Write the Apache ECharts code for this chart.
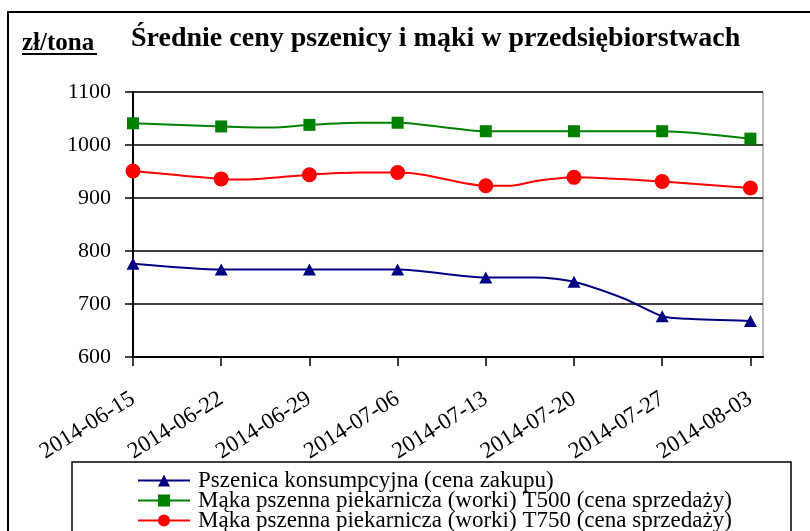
<!DOCTYPE html>
<html><head><meta charset="utf-8">
<script src="https://cdn.jsdelivr.net/npm/echarts@6/dist/echarts.min.js"></script>
<style>html,body{margin:0;padding:0;background:#fff}#c{width:810px;height:531px}</style>
</head><body><div id="c"></div>
<script>
const tickDates = ['2014-06-15','2014-06-22','2014-06-29','2014-07-06','2014-07-13','2014-07-20','2014-07-27','2014-08-03'];
const seriesNames = ['Pszenica konsumpcyjna (cena zakupu)','Mąka pszenna piekarnicza (worki) T500 (cena sprzedaży)','Mąka pszenna piekarnicza (worki) T750 (cena sprzedaży)'];
const wheatDates = ['2014-06-15','2014-06-22','2014-06-29','2014-07-06','2014-07-13','2014-07-17','2014-07-20','2014-07-24','2014-07-27','2014-07-29','2014-08-03'];
const wheatValues = [776, 765, 765, 765, 750, 750, 742, 710, 677, 672, 668];
const t500Dates = ['2014-06-15','2014-06-22','2014-06-26','2014-06-29','2014-07-03','2014-07-06','2014-07-13','2014-07-20','2014-07-27','2014-08-03'];
const t500Values = [1041, 1035, 1033, 1038, 1042, 1042, 1026, 1026, 1026, 1012];
const t750Dates = ['2014-06-15','2014-06-22','2014-06-24','2014-06-29','2014-07-03','2014-07-06','2014-07-08','2014-07-13','2014-07-15','2014-07-17','2014-07-20','2014-07-27','2014-08-03'];
const t750Values = [951, 936, 935, 944, 948, 948, 944, 923, 923, 932, 939, 931, 919];

// daily category axis from first tick to one day past the last tick
const days = [];
(function(){
  let d = new Date(Date.UTC(2014,5,15));
  const end = Date.UTC(2014,7,4);
  while (d.getTime() <= end) { days.push(d.toISOString().slice(0,10)); d = new Date(d.getTime()+86400000); }
})();

function build(dates, vals, sym, size){
  return dates.map((d,i)=>({value:[d, vals[i]], symbol: tickDates.includes(d) ? sym : 'none', symbolSize: size}));
}
const FONT = '"Liberation Serif","Times New Roman",serif';
const chart = echarts.init(document.getElementById('c'));
chart.setOption({
  animation:false,
  backgroundColor:'#fff',
  title:{text:'Średnie ceny pszenicy i mąki w przedsiębiorstwach', left:126, top:20,
    textStyle:{fontFamily:FONT, fontWeight:'bold', fontSize:28, color:'#000'}},
  grid:{left:133, right:47, top:92, bottom:174, show:true, borderColor:'#808080', borderWidth:1},
  legend:{orient:'vertical', left:137, top:469, height:120, padding:0, itemWidth:52, itemHeight:15, itemGap:-3,
    textStyle:{fontFamily:FONT, fontSize:23, color:'#000', lineHeight:19, padding:[0,0,0,3]}, data:seriesNames},
  xAxis:{type:'category', data:days, boundaryGap:false,
    axisLine:{lineStyle:{color:'#000', width:2}},
    axisTick:{show:true, inside:false, length:9, interval:(i)=>i%7===0, lineStyle:{color:'#000',width:1.5}},
    axisLabel:{interval:(i)=>i%7===0, rotate:32, margin:40, fontFamily:FONT, fontSize:23, color:'#000'},
    splitLine:{show:false}},
  yAxis:{type:'value', min:600, max:1100, interval:100,
    axisLine:{show:true, lineStyle:{color:'#000', width:2}},
    axisTick:{show:true, length:8, lineStyle:{color:'#000', width:1.5}},
    axisLabel:{margin:22, fontFamily:FONT, fontSize:22, color:'#000', formatter:(v)=>String(v)},
    splitLine:{show:true, lineStyle:{color:'#000', width:1.5}}},
  graphic:[
    {type:'rect', shape:{x:8, y:12, width:900, height:700}, style:{fill:'none', stroke:'#000', lineWidth:2}, z:-1},
    {type:'rect', shape:{x:72, y:462, width:719, height:200}, style:{fill:'none', stroke:'#000', lineWidth:1.5}, z:-1},
    {type:'text', left:22, top:31, style:{text:'zł/tona', font:'bold 25px '+FONT, fill:'#000'}},
    {type:'line', shape:{x1:22, y1:54, x2:97, y2:54}, style:{stroke:'#000', lineWidth:2}}
  ],
  series:[
    {name:seriesNames[0], type:'line', smooth:0.25, symbol:'triangle', symbolSize:[13,12],
      color:'#000080', lineStyle:{width:2}, data:build(wheatDates, wheatValues, 'triangle', [13,12])},
    {name:seriesNames[1], type:'line', smooth:0.25, symbol:'rect', symbolSize:12,
      color:'#008000', lineStyle:{width:2}, data:build(t500Dates, t500Values, 'rect', 12)},
    {name:seriesNames[2], type:'line', smooth:0.25, symbol:'circle', symbolSize:15,
      color:'#ff0000', lineStyle:{width:2}, data:build(t750Dates, t750Values, 'circle', 15)}
  ]
});
</script></body></html>
